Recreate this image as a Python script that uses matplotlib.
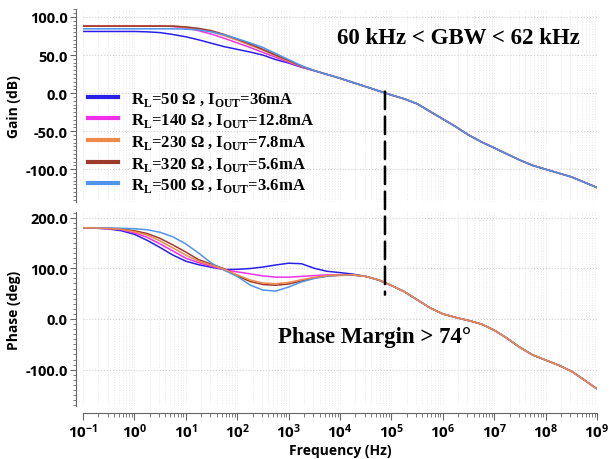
import numpy as np
import matplotlib
matplotlib.use("Agg")
import matplotlib.pyplot as plt
from matplotlib.patches import ConnectionPatch
from matplotlib.ticker import LogLocator, FormatStrFormatter, MultipleLocator, NullFormatter

plt.rcParams['font.family'] = ['Open Sans', 'DejaVu Sans']
plt.rcParams['axes.unicode_minus'] = False

# frequency points, log10(Hz), quarter-decade steps
log_f_lo = [-1.0, -0.75, -0.5, -0.25, 0.0, 0.25, 0.5, 0.75, 1.0, 1.25, 1.5, 1.75,
            2.0, 2.25, 2.5, 2.75, 3.0, 3.25, 3.5, 3.75, 4.0, 4.25, 4.5]
log_f_hi = [4.75, 5.0, 5.25, 5.5, 5.75, 6.0, 6.25, 6.5, 6.75, 7.0, 7.25, 7.5,
            7.75, 8.0, 8.25, 8.5, 8.75, 9.0]

labels = [r'R$_\mathregular{L}$=50 Ω , I$_\mathregular{OUT}$=36mA',
          r'R$_\mathregular{L}$=140 Ω , I$_\mathregular{OUT}$=12.8mA',
          r'R$_\mathregular{L}$=230 Ω , I$_\mathregular{OUT}$=7.8mA',
          r'R$_\mathregular{L}$=320 Ω , I$_\mathregular{OUT}$=5.6mA',
          r'R$_\mathregular{L}$=500 Ω , I$_\mathregular{OUT}$=3.6mA']
colors = ['#2a1fe8', '#f030e8', '#f08a48', '#9c3b2c', '#5094ec']

# gain (dB), low-frequency part per load
gain_50 = [81, 81, 81, 81, 81, 80.5, 79.5, 77, 74, 70, 65.5, 61, 57.5, 54, 50, 44, 39.5, 34, 29.5, 24.5, 19.5, 14, 8.5]
gain_140 = [88.5, 88.5, 88.5, 88.5, 88.5, 88.5, 88.5, 87.5, 85.5, 82, 77.5, 72, 66, 60, 53.5, 47, 40.5, 34.5, 29.5, 24.5, 19.5, 14, 8.5]
gain_230 = [88, 88, 88, 88, 88, 88, 88, 88, 86.5, 84, 80.5, 75.5, 69.5, 63, 56.5, 49, 42, 35, 29.5, 24.5, 19.5, 14, 8.5]
gain_320 = [88, 88, 88, 88, 88, 88, 88, 88, 87, 85, 82, 77, 71, 64.5, 57.5, 50, 43, 35.5, 29.5, 24.5, 19.5, 14, 8.5]
gain_500 = [84.5, 84.5, 84.5, 84.5, 84.5, 84.5, 84.5, 84.5, 84, 83, 80.5, 76.5, 71.5, 66, 60, 52, 44, 36, 29.5, 24.5, 19.5, 14, 8.5]
# shared high-frequency tail
gain_tail = [3, -2.5, -7.5, -14, -24, -34, -44, -55, -64, -72, -80, -88, -95, -100, -105, -110, -117, -124]

# phase (deg), low-frequency part per load
phase_50 = [180, 179, 177.5, 174, 167, 155, 141, 126, 114, 107, 102, 97.5, 98, 99.5, 102.5, 106.5, 110, 109, 100, 94, 91.5, 88.5, 84]
phase_140 = [180, 179.5, 178, 176, 170, 161, 148, 134, 120, 111, 104, 97, 93, 89, 85, 82.5, 82.5, 84, 85.5, 87, 87.5, 87, 84]
phase_230 = [180, 179.5, 178.5, 177, 172, 165.5, 154, 140, 126, 114, 106, 98, 87, 77, 71, 69.5, 72, 77.5, 82, 85.5, 87, 87, 84]
phase_320 = [180, 179.5, 179, 177.5, 174, 168.5, 159, 146, 132, 117, 108, 99, 85, 74, 68, 66.5, 69, 75, 81, 84.5, 86, 86.5, 84]
phase_500 = [180, 180, 179.5, 179, 178, 176, 171, 162, 148, 130, 110, 96, 84, 67, 57, 55, 63, 73, 80, 84.5, 86.5, 87, 84]
phase_tail = [77, 66, 54, 38, 22, 10, 3, -3, -10, -22, -38, -56, -71, -81, -91, -103, -120, -138]

gbw_freq = 75e3
gains = [gain_50, gain_140, gain_230, gain_320, gain_500]
phases = [phase_50, phase_140, phase_230, phase_320, phase_500]

freq = 10 ** np.array(log_f_lo + log_f_hi)

fig = plt.figure(figsize=(6.11, 4.6), dpi=100)
ax1 = fig.add_axes([83 / 611, 1 - 203 / 460, 514 / 611, 193 / 460])
ax2 = fig.add_axes([83 / 611, 1 - 407 / 460, 514 / 611, 194 / 460])

for g, c, lab in zip(gains, colors, labels):
    ax1.plot(freq, g + gain_tail, color=c, lw=1.1, label=lab)
phase_order = [0, 1, 3, 4, 2]
for i in phase_order:
    ax2.plot(freq, phases[i] + phase_tail, color=colors[i], lw=1.1)

for ax in (ax1, ax2):
    ax.set_xscale('log')
    ax.set_xlim(1e-1, 1e9)
    ax.xaxis.set_major_locator(LogLocator(base=10, numticks=20))
    ax.xaxis.set_minor_locator(LogLocator(base=10, subs=np.arange(2, 10), numticks=200))
    ax.xaxis.set_minor_formatter(NullFormatter())
    ax.grid(True, which='both', axis='x', color='#e8e8e8', ls=':', lw=0.7)
    ax.grid(True, which='major', axis='y', color='#d0d0d0', ls=':', lw=0.8)
    for s in ('top', 'right'):
        ax.spines[s].set_visible(False)
    ax.spines['left'].set_position(('outward', 5))
    ax.spines['left'].set_color('#666666')
    ax.spines['bottom'].set_color('#666666')
    ax.yaxis.set_major_formatter(FormatStrFormatter('%.1f'))
    ax.tick_params(axis='y', which='major', length=4, color='#666666', pad=2)
    ax.tick_params(axis='y', which='minor', length=2, color='#666666')

ax1.set_ylim(-143, 110.5)
ax1.yaxis.set_major_locator(MultipleLocator(50))
ax1.yaxis.set_minor_locator(MultipleLocator(5))
ax1.spines['bottom'].set_visible(False)
ax1.tick_params(axis='x', which='both', length=0, labelbottom=False)

ax2.set_ylim(-171.6, 211)
ax2.yaxis.set_major_locator(MultipleLocator(100))
ax2.yaxis.set_minor_locator(MultipleLocator(10))
ax2.spines['bottom'].set_position(('outward', 5))
ax2.tick_params(axis='x', which='major', length=5, color='#666666', pad=1)
ax2.tick_params(axis='x', which='minor', length=3, color='#666666')

for ax in (ax1, ax2):
    for t in ax.get_yticklabels():
        t.set_fontfamily('Open Sans')
        t.set_fontweight('bold')
        t.set_fontsize(10.5)
for t in ax2.get_xticklabels():
    t.set_fontfamily('Open Sans')
    t.set_fontweight('bold')
    t.set_fontsize(11)

lab_font = dict(fontfamily='Open Sans', fontweight='bold', fontsize=10)
ax1.set_ylabel('Gain (dB)', **lab_font)
ax2.set_ylabel('Phase (deg)', **lab_font)
ax2.set_xlabel('Frequency (Hz)', labelpad=2, **lab_font)
ax1.yaxis.set_label_coords(-0.12, 0.5)
ax2.yaxis.set_label_coords(-0.12, 0.5)

leg = ax1.legend(loc='upper left', bbox_to_anchor=(-0.02, 0.66), frameon=False,
                 prop=dict(family='Liberation Serif', weight='bold', size=12),
                 handlelength=1.8, handletextpad=0.8, labelspacing=0.22)
for h in leg.get_lines():
    h.set_linewidth(3)

ax1.text(0.73, 0.85, '60 kHz < GBW < 62 kHz', transform=ax1.transAxes, ha='center', va='center',
         fontfamily='Liberation Serif', fontweight='bold', fontsize=16.5)
ax2.text(0.568, 0.36, 'Phase Margin > 74°', transform=ax2.transAxes, ha='center', va='center',
         fontfamily='Liberation Serif', fontweight='bold', fontsize=16.5)

con = ConnectionPatch(xyA=(gbw_freq, 2), coordsA=ax1.transData,
                      xyB=(gbw_freq, 48), coordsB=ax2.transData,
                      color='black', lw=1.8, linestyle=(0, (7, 3)))
fig.add_artist(con)

fig.savefig('out.png', dpi=100)
